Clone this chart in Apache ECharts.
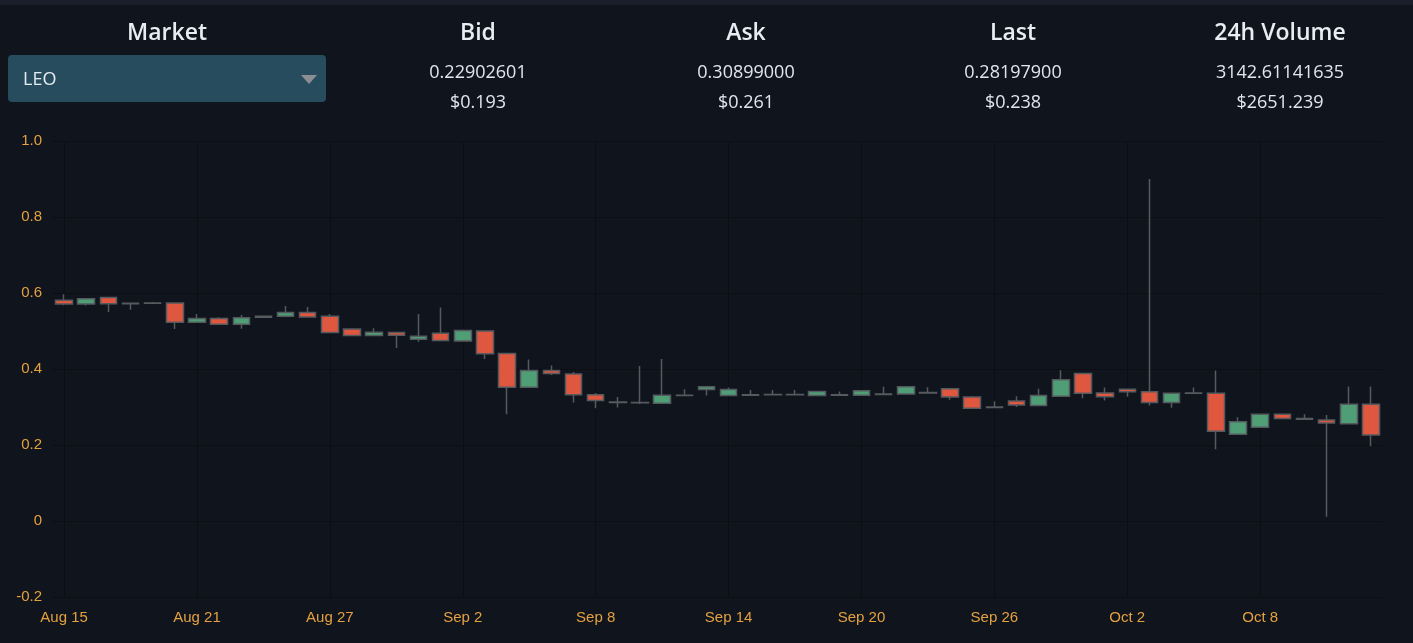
<!DOCTYPE html>
<html>
<head>
<meta charset="utf-8">
<script src="https://cdn.jsdelivr.net/npm/echarts@6/dist/echarts.min.js"></script>
<style>
  html, body { margin: 0; padding: 0; background: #10141c; width: 1413px; height: 643px; overflow: hidden; }
  #topbar { position: absolute; left: 0; top: 0; width: 1413px; height: 5px; background: #1b1f2b; }
  #chart { position: absolute; left: 0; top: 0; width: 1413px; height: 643px; }
  .col { position: absolute; top: 14px; width: 260px; text-align: center; font-family: "Open Sans", "Noto Sans", sans-serif; color: #dfe7ee; }
  .col h3 { margin: 0; font-size: 23px; font-weight: 600; line-height: 34px; color: #e6edf3; }
  .col div { font-size: 18px; line-height: 30px; }
  .col .v1 { margin-top: 8px; }
  #market { position: absolute; left: 8px; top: 55px; width: 318px; height: 47px; background: #264c5e; border-radius: 4px;
            font-family: "Open Sans", "Noto Sans", sans-serif; color: #e3eaf0; font-size: 18px; }
  #market span { position: absolute; left: 15px; top: 11px; }
  #market i { position: absolute; right: 9px; top: 20px; width: 0; height: 0;
              border-left: 8px solid transparent; border-right: 8px solid transparent; border-top: 9px solid #8b8f93; }
</style>
</head>
<body>
<div id="chart"></div>
<div id="topbar"></div>
<div class="col" style="left:37px"><h3>Market</h3></div>
<div id="market"><span>LEO</span><i></i></div>
<div class="col" style="left:348px"><h3>Bid</h3><div class="v1">0.22902601</div><div>$0.193</div></div>
<div class="col" style="left:616px"><h3>Ask</h3><div class="v1">0.30899000</div><div>$0.261</div></div>
<div class="col" style="left:883px"><h3>Last</h3><div class="v1">0.28197900</div><div>$0.238</div></div>
<div class="col" style="left:1150px"><h3>24h Volume</h3><div class="v1">3142.61141635</div><div>$2651.239</div></div>
<script>
// 日期
const dates = [
  'Aug 15','Aug 16','Aug 17','Aug 18','Aug 19','Aug 20','Aug 21','Aug 22','Aug 23','Aug 24',
  'Aug 25','Aug 26','Aug 27','Aug 28','Aug 29','Aug 30','Aug 31','Sep 1','Sep 2','Sep 3',
  'Sep 4','Sep 5','Sep 6','Sep 7','Sep 8','Sep 9','Sep 10','Sep 11','Sep 12','Sep 13',
  'Sep 14','Sep 15','Sep 16','Sep 17','Sep 18','Sep 19','Sep 20','Sep 21','Sep 22','Sep 23',
  'Sep 24','Sep 25','Sep 26','Sep 27','Sep 28','Sep 29','Sep 30','Oct 1','Oct 2','Oct 3',
  'Oct 4','Oct 5','Oct 6','Oct 7','Oct 8','Oct 9','Oct 10','Oct 11','Oct 12','Oct 13'
]
// 开盘
const opens = [
  0.581,0.571,0.588,0.573,0.573,0.574,0.523,0.533,0.518,0.536,
  0.539,0.549,0.539,0.505,0.488,0.496,0.478,0.494,0.474,0.500,
  0.441,0.352,0.396,0.387,0.332,0.312,0.311,0.310,0.330,0.346,
  0.330,0.331,0.332,0.332,0.330,0.331,0.331,0.333,0.334,0.337,
  0.348,0.326,0.299,0.316,0.304,0.328,0.388,0.337,0.347,0.340,
  0.312,0.336,0.336,0.228,0.247,0.281,0.270,0.266,0.256,0.307
]
// 收盘
const closes = [
  0.571,0.585,0.572,0.572,0.574,0.523,0.533,0.518,0.535,0.539,
  0.549,0.537,0.496,0.488,0.497,0.489,0.486,0.475,0.501,0.440,
  0.352,0.396,0.388,0.332,0.317,0.313,0.312,0.331,0.331,0.353,
  0.346,0.332,0.333,0.333,0.341,0.332,0.343,0.334,0.353,0.338,
  0.326,0.297,0.300,0.305,0.330,0.372,0.336,0.327,0.340,0.312,
  0.336,0.337,0.236,0.261,0.281,0.270,0.268,0.258,0.307,0.226
]
// 最低
const lows = [
  0.568,0.567,0.550,0.556,0.572,0.505,0.523,0.518,0.506,0.535,
  0.536,0.537,0.496,0.488,0.488,0.455,0.472,0.474,0.474,0.426,
  0.281,0.352,0.384,0.312,0.297,0.299,0.308,0.310,0.329,0.330,
  0.330,0.330,0.331,0.331,0.330,0.330,0.331,0.332,0.334,0.336,
  0.319,0.297,0.298,0.300,0.304,0.328,0.323,0.317,0.327,0.304,
  0.298,0.335,0.189,0.228,0.247,0.268,0.267,0.011,0.256,0.197
]
// 最高
const highs = [
  0.597,0.586,0.588,0.573,0.576,0.574,0.545,0.536,0.542,0.541,
  0.566,0.563,0.545,0.505,0.507,0.496,0.545,0.562,0.504,0.500,
  0.441,0.425,0.409,0.392,0.337,0.326,0.408,0.426,0.347,0.353,
  0.351,0.345,0.345,0.345,0.341,0.341,0.343,0.353,0.353,0.352,
  0.348,0.329,0.315,0.328,0.348,0.397,0.388,0.351,0.347,0.900,
  0.336,0.351,0.396,0.273,0.281,0.281,0.281,0.279,0.354,0.354
]
// y轴范围
const yMin = -0.2
const yMax = 1.0
const yStep = 0.2

const dom = document.querySelector('#chart')
const myChart = echarts.init(dom)

const option = {
  backgroundColor: 'transparent',
  animation: false,
  grid: {
    left: 53,
    right: 31,
    top: 141,
    bottom: 46
  },
  xAxis: {
    type: 'category',
    data: dates,
    boundaryGap: true,
    axisLine: { show: false },
    axisTick: { show: false },
    axisLabel: {
      interval: 5,
      color: '#e4a140',
      fontSize: 15,
      margin: 13,
      fontFamily: 'Liberation Sans, Arial, sans-serif'
    },
    splitLine: {
      show: true,
      interval: 5,
      alignWithLabel: true,
      lineStyle: { color: '#0b0e15', width: 1 }
    }
  },
  yAxis: {
    type: 'value',
    min: yMin,
    max: yMax,
    interval: yStep,
    axisLine: { show: false },
    axisTick: { show: false },
    axisLabel: {
      color: '#e4a140',
      fontSize: 15,
      margin: 11,
      fontFamily: 'Liberation Sans, Arial, sans-serif',
      // 0 显示为 "0", 其余保留一位小数
      formatter: v => Math.abs(v) < 1e-9 ? '0' : v.toFixed(1)
    },
    splitLine: {
      lineStyle: { color: '#0b0e15', width: 1 }
    }
  },
  series: [
    {
      type: 'candlestick',
      data: dates.map((d, i) => [opens[i], closes[i], lows[i], highs[i]]),
      barWidth: 17,
      itemStyle: {
        color: '#4f9e75',
        color0: '#e0573f',
        borderColor: '#555a5f',
        borderColor0: '#555a5f',
        borderWidth: 1.5
      }
    }
  ]
}

myChart.setOption(option)
</script>
</body>
</html>
